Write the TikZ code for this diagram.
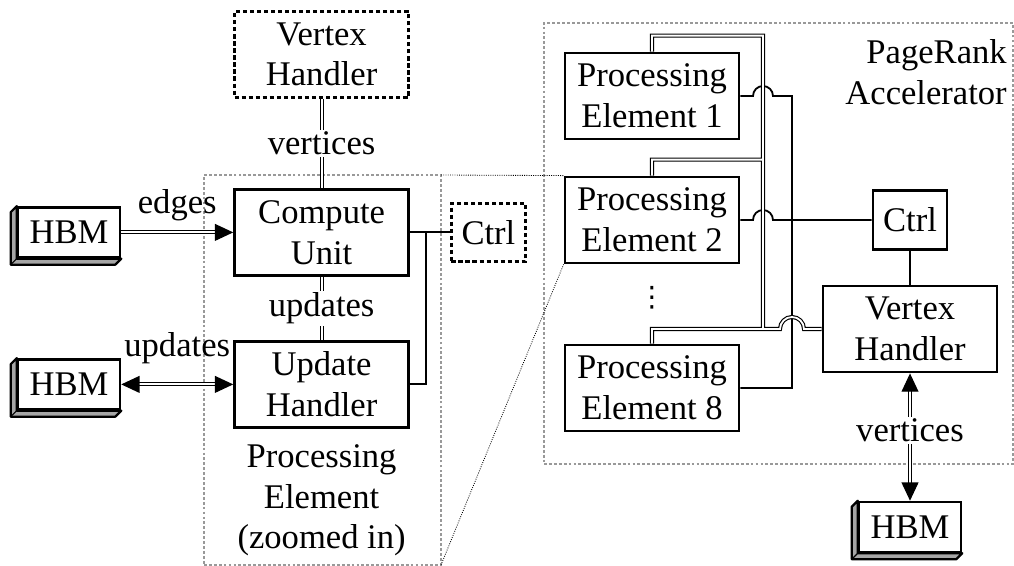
\documentclass[tikz,border=0pt]{standalone}
\usepackage{fontspec}
\setmainfont{Liberation Serif}
\newfontfamily\symfont{DejaVu Sans}
\usetikzlibrary{arrows.meta, calc}

% gray side faces of an HBM stack
\newcommand{\hbmdepth}[1]{%
  \filldraw[fill=gray!70, line width=1.6pt, line join=round]
    (#1.north west) -- ++(-0.15,-0.15) -- ($(#1.south west)+(-0.15,-0.15)$)
    -- ($(#1.south east)+(-0.15,-0.15)$) -- (#1.south east) -- (#1.south west) -- cycle;
  \draw[line width=0.8pt] (#1.south west) -- ++(-0.15,-0.15);}

\begin{document}
\begin{tikzpicture}[font=\fontsize{24.6}{29}\selectfont]
\tikzstyle{block} = [rectangle, minimum width=4.35cm, minimum height=2.15cm, text centered, align=center, draw=black, line width=2pt, fill=white]
\tikzstyle{dashblock} = [block, dash pattern=on 3pt off 2pt]
\tikzstyle{ctrlbox} = [rectangle, minimum width=1.85cm, minimum height=1.46cm, draw=black, line width=2pt, fill=white]
\tikzstyle{hbm} = [rectangle, minimum width=2.55cm, minimum height=1.25cm, draw=black, line width=1.8pt, fill=white]
\tikzstyle{frame} = [rectangle, draw=gray!80, line width=0.9pt, dash pattern=on 2pt off 1.5pt, inner sep=0pt, outer sep=0pt]
\tikzstyle{zoomline} = [densely dotted, line width=0.6pt]
\tikzstyle{wire} = [line width=1.3pt]
\tikzstyle{bus} = [double, double distance=1.3pt, line width=0.8pt]
\tikzstyle{flow} = [bus, ->, >={Triangle[length=13pt, width=12pt]}]
\tikzstyle{lbl} = [fill=white, inner sep=1.5pt]

\useasboundingbox (0,0) rectangle (25.35,-14.15);

% frames
\node (pebox) [frame, minimum width=5.925cm, minimum height=9.75cm] at (8.0625,-9.25) {};
\node (acc) [frame, minimum width=11.725cm, minimum height=11.025cm] at (19.4625,-6.0875) {};
\node (acctext) [anchor=north east, align=right, inner sep=2pt] at ($(acc.north east)+(-0.08,-0.34)$) {PageRank\\Accelerator};

% one processing element, zoomed in
\node (cu) [block] at (8.04,-5.81) {Compute\\Unit};
\node (vh0) [dashblock, node distance=4.45cm, above of=cu] {Vertex\\Handler};
\node (uh) [block, node distance=3.8cm, below of=cu] {Update\\Handler};
\node (petext) [align=center, node distance=2.9cm, below of=uh] {Processing\\Element\\(zoomed in)};
\node (ctrl0) [ctrlbox, dash pattern=on 3pt off 2pt, node distance=4.17cm, right of=cu] {Ctrl};
\node (hbm1) [hbm, node distance=6.315cm, left of=cu] {HBM};
\node (hbm2) [hbm, node distance=6.315cm, left of=uh] {HBM};

% accelerator
\node (pe1) [block] at (16.3,-2.4) {Processing\\Element 1};
\node (pe2) [block, node distance=3.1cm, below of=pe1] {Processing\\Element 2};
\node (pe8) [block, node distance=4.2cm, below of=pe2] {Processing\\Element 8};
\node (dots) [inner sep=0pt, node distance=1.95cm, below of=pe2] {\symfont\fontsize{20}{20}\selectfont ⋮};
\node (vh) [block] at (22.75,-8.225) {Vertex\\Handler};
\node (ctrl) [ctrlbox, node distance=2.725cm, above of=vh] {Ctrl};
\node (hbm3) [hbm, node distance=4.95cm, below of=vh] {HBM};

\hbmdepth{hbm1}
\hbmdepth{hbm2}
\hbmdepth{hbm3}

\draw [zoomline] (pebox.north east) -- (pe2.north west);
\draw [zoomline] (pebox.south east) -- (pe2.south west);

\coordinate (busx) at (19.075,0);
\coordinate (ctlx) at (19.8,0);

% control wires
\draw [wire] (cu.east) -- (ctrl0.west);
\draw [wire] (uh.east) -| ($(cu.east)+(0.4,0)$);
\draw [wire] (pe1.east) -- ($(pe1.east -| busx)+(-0.25,0)$) arc[start angle=180, end angle=0, radius=0.25cm]
  -- (pe1.east -| ctlx) -- (pe8.east -| ctlx) -- (pe8.east);
\draw [wire] (pe2.east) -- ($(pe2.east -| busx)+(-0.25,0)$) arc[start angle=180, end angle=0, radius=0.25cm]
  -- (ctrl.west);
\draw [wire] (ctrl.south) -- (vh.north);

% data buses
\draw [bus] (pe1.north) -- ++(0,0.4) -| (busx |- vh.west)
  -- ($(vh.west -| ctlx)+(-0.3,0)$) arc[start angle=180, end angle=0, radius=0.3cm] -- (vh.west)
  (pe2.north) -- ++(0,0.4) -| (busx |- vh.west)
  (pe8.north) |- (busx |- vh.west);
\draw [bus] (vh0.south) -- node[lbl] {vertices} (cu.north);
\draw [bus] (cu.south) -- node[lbl] {updates} (uh.north);
\draw [flow] (hbm1.east) -- node[above=7.5pt, inner sep=0pt] {edges} (cu.west);
\draw [flow, <->] (hbm2.east) -- node[above=13.9pt, inner sep=0pt] {updates} (uh.west);
\draw [flow, <->] (vh.south) -- node[lbl, pos=0.45] {vertices} (hbm3.north);
\end{tikzpicture}
\end{document}
